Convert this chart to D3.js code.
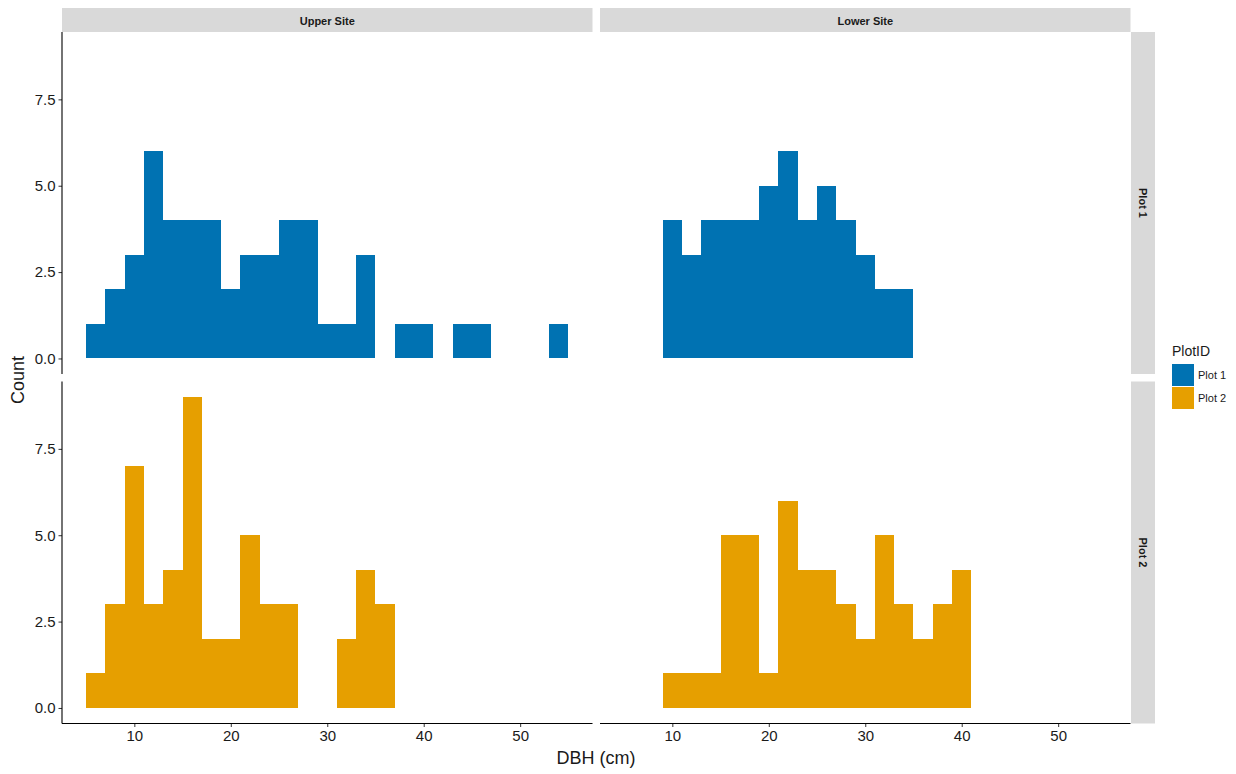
<!DOCTYPE html>
<html>
<head>
<meta charset="utf-8">
<script src="https://cdn.jsdelivr.net/npm/d3@7"></script>
<style>
  html, body { margin: 0; padding: 0; background: #fff; }
  svg { display: block; font-family: "Liberation Sans", Arial, Helvetica, sans-serif; }
</style>
</head>
<body>
<svg id="chart" width="1236" height="774"></svg>
<script>
// Histogram bins: 2 cm wide, left edges from 5 to 53 cm
const binStarts = [5,7,9,11,13,15,17,19,21,23,25,27,29,31,33,35,37,39,41,43,45,47,49,51,53];
const binWidth = 2;

// Tree counts per DBH bin for each site / plot
const upperPlot1 = [1,2,3,6,4,4,4,2,3,3,4,4,1,1,3,0,1,1,0,1,1,0,0,0,1];
const lowerPlot1 = [0,0,4,3,4,4,4,5,6,4,5,4,3,2,2,0,0,0,0,0,0,0,0,0,0];
const upperPlot2 = [1,3,7,3,4,9,2,2,5,3,3,0,0,2,4,3,0,0,0,0,0,0,0,0,0];
const lowerPlot2 = [0,0,1,1,1,5,5,1,6,4,4,3,2,5,3,2,3,4,0,0,0,0,0,0,0];

const sites = ["Upper Site", "Lower Site"];
const plots = ["Plot 1", "Plot 2"];
const counts = {
  "Upper Site": { "Plot 1": upperPlot1, "Plot 2": upperPlot2 },
  "Lower Site": { "Plot 1": lowerPlot1, "Plot 2": lowerPlot2 }
};

const xTicks = [10, 20, 30, 40, 50];
const yTicks = [0, 2.5, 5, 7.5];
const xDomain = [2.5, 57.5];
const yDomain = [-0.45, 9.45];

const colors = { "Plot 1": "#0072B2", "Plot 2": "#E69F00" };

const svg = d3.select("#chart");

// Panel grid geometry
const colX = [[62, 592.5], [600, 1130.5]];
const rowY = [[32, 374], [381.5, 723.5]];
const textColor = "#1a1a1a";

const color = d3.scaleOrdinal().domain(plots).range(plots.map(p => colors[p]));

sites.forEach((site, ci) => {
  const x = d3.scaleLinear().domain(xDomain).range(colX[ci]);

  // column strip
  svg.append("rect")
    .attr("x", colX[ci][0]).attr("y", 8)
    .attr("width", colX[ci][1] - colX[ci][0]).attr("height", 24)
    .attr("fill", "#d9d9d9");
  svg.append("text")
    .attr("x", (colX[ci][0] + colX[ci][1]) / 2).attr("y", 24.5)
    .attr("text-anchor", "middle")
    .attr("font-size", 11).attr("font-weight", "bold")
    .attr("fill", textColor)
    .text(site);

  plots.forEach((plot, ri) => {
    const y = d3.scaleLinear().domain(yDomain).range([rowY[ri][1], rowY[ri][0]]);
    const data = binStarts.map((b, i) => ({ x0: b, x1: b + binWidth, n: counts[site][plot][i] }))
      .filter(d => d.n > 0);

    // bars snapped to whole pixels so neighbouring bins join without seams
    svg.append("g")
      .attr("shape-rendering", "crispEdges")
      .selectAll("rect")
      .data(data).join("rect")
      .attr("x", d => Math.round(x(d.x0)))
      .attr("width", d => Math.round(x(d.x1)) - Math.round(x(d.x0)))
      .attr("y", d => Math.round(y(d.n)))
      .attr("height", d => Math.round(y(0)) - Math.round(y(d.n)))
      .attr("fill", color(plot));

    // y axis on the first column only
    if (ci === 0) {
      const ya = svg.append("g")
        .attr("transform", `translate(${colX[0][0]},0)`)
        .call(d3.axisLeft(y).tickValues(yTicks).tickFormat(d3.format(".1f")).tickSizeOuter(0).tickSize(3.5).tickPadding(3));
      ya.select(".domain").remove();
      ya.append("line")
        .attr("x1", 0).attr("x2", 0)
        .attr("y1", rowY[ri][0]).attr("y2", rowY[ri][1])
        .attr("stroke", "#000").attr("stroke-width", 1.1);
      ya.selectAll(".tick line").attr("stroke", "#333");
      ya.selectAll(".tick text").attr("font-size", 15).attr("fill", textColor)
        .attr("font-family", "Liberation Sans, Arial, sans-serif");
    }

    // x axis on the bottom row only
    if (ri === 1) {
      const xa = svg.append("g")
        .attr("transform", `translate(0,${rowY[1][1]})`)
        .call(d3.axisBottom(x).tickValues(xTicks).tickSizeOuter(0).tickSize(3.5).tickPadding(3));
      xa.select(".domain").remove();
      xa.append("line")
        .attr("x1", colX[ci][0]).attr("x2", colX[ci][1])
        .attr("y1", 0).attr("y2", 0)
        .attr("stroke", "#000").attr("stroke-width", 1.1);
      xa.selectAll(".tick line").attr("stroke", "#333");
      xa.selectAll(".tick text").attr("font-size", 15).attr("fill", textColor)
        .attr("font-family", "Liberation Sans, Arial, sans-serif");
    }
  });
});

// row strips
plots.forEach((plot, ri) => {
  svg.append("rect")
    .attr("x", 1131).attr("y", rowY[ri][0])
    .attr("width", 24).attr("height", rowY[ri][1] - rowY[ri][0])
    .attr("fill", "#d9d9d9");
  const cy = (rowY[ri][0] + rowY[ri][1]) / 2;
  svg.append("text")
    .attr("transform", `translate(1139,${cy}) rotate(90)`)
    .attr("text-anchor", "middle")
    .attr("font-size", 11).attr("font-weight", "bold")
    .attr("fill", textColor)
    .text(plot);
});

// axis titles
svg.append("text")
  .attr("x", 596).attr("y", 764)
  .attr("text-anchor", "middle")
  .attr("font-size", 18).attr("fill", textColor)
  .text("DBH (cm)");
svg.append("text")
  .attr("transform", "translate(24,380) rotate(-90)")
  .attr("text-anchor", "middle")
  .attr("font-size", 18).attr("fill", textColor)
  .text("Count");

// legend
const legend = svg.append("g").attr("transform", "translate(1172,0)");
legend.append("text")
  .attr("x", 0).attr("y", 356)
  .attr("font-size", 14).attr("fill", textColor)
  .text("PlotID");
plots.forEach((plot, i) => {
  const ky = 364 + i * 23;
  legend.append("rect")
    .attr("x", 0).attr("y", ky)
    .attr("width", 22).attr("height", 22)
    .attr("fill", color(plot));
  legend.append("text")
    .attr("x", 26).attr("y", ky + 15)
    .attr("font-size", 11).attr("fill", textColor)
    .text(plot);
});
</script>
</body>
</html>
